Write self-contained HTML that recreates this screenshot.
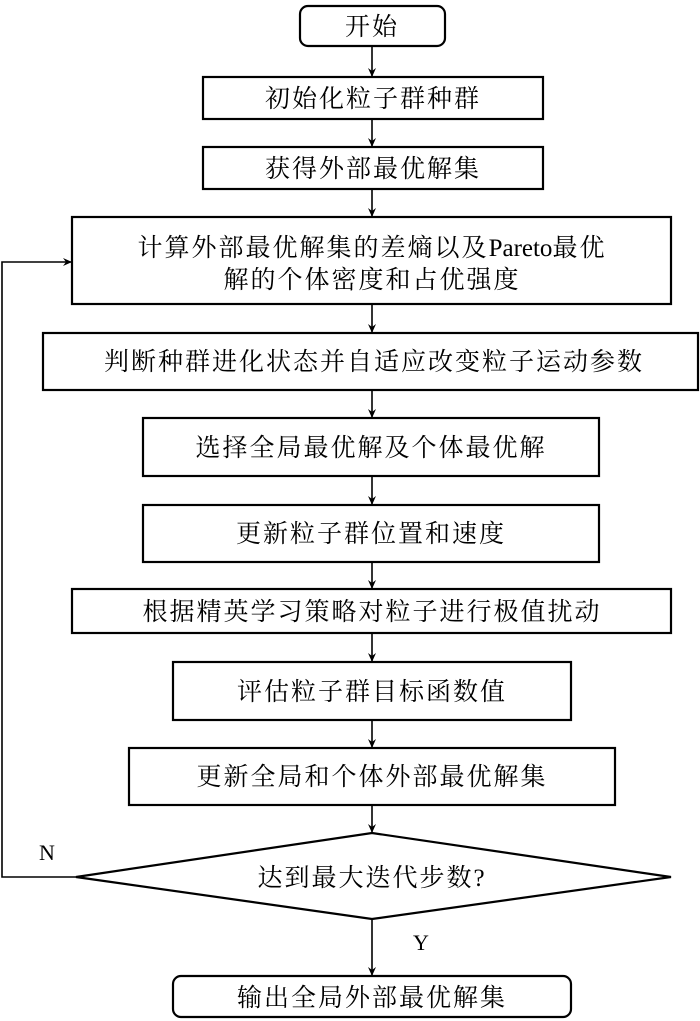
<!DOCTYPE html>
<html><head><meta charset="utf-8"><style>
html,body{margin:0;padding:0;background:#fff;}
svg{display:block;}
text{font-family:"Liberation Serif","Noto Serif CJK SC",serif;font-size:25px;fill:#000;text-anchor:middle;letter-spacing:2px;}
</style></head><body>
<svg width="700" height="1021" viewBox="0 0 700 1021" xmlns="http://www.w3.org/2000/svg">
<defs><marker id="a" markerWidth="10" markerHeight="10" refX="9" refY="5" orient="auto" markerUnits="userSpaceOnUse"><path d="M0,1 L9,5 L0,9 L3,5 z" fill="#000"/></marker></defs>
<g fill="none" stroke="#000" stroke-width="2.2">
<rect x="300" y="6" width="145" height="40" rx="8"/>
<rect x="203" y="77" width="340" height="42"/>
<rect x="203" y="147" width="340" height="42"/>
<rect x="72" y="217" width="599" height="87"/>
<rect x="43" y="333" width="655" height="57"/>
<rect x="143" y="418" width="456" height="58"/>
<rect x="143" y="505" width="456" height="57"/>
<rect x="72" y="589" width="599" height="44"/>
<rect x="173" y="662" width="398" height="58"/>
<rect x="129" y="748" width="486" height="57"/>
<polygon points="372,833 671,877 372,919 76,877"/>
<rect x="173" y="976" width="398" height="41" rx="8"/>
<g marker-end="url(#a)" stroke-width="1.6">
<line x1="372" y1="46" x2="372" y2="77"/>
<line x1="372" y1="119" x2="372" y2="147"/>
<line x1="372" y1="189" x2="372" y2="217"/>
<line x1="372" y1="304" x2="372" y2="333"/>
<line x1="372" y1="390" x2="372" y2="418"/>
<line x1="372" y1="476" x2="372" y2="505"/>
<line x1="372" y1="562" x2="372" y2="589"/>
<line x1="372" y1="633" x2="372" y2="662"/>
<line x1="372" y1="720" x2="372" y2="748"/>
<line x1="372" y1="805" x2="372" y2="833"/>
<line x1="372" y1="919" x2="372" y2="976"/>
<polyline points="76,877 2,877 2,262 72,262"/>
</g>
</g>
<text x="372" y="35">开始</text>
<text x="373" y="107">初始化粒子群种群</text>
<text x="373" y="177">获得外部最优解集</text>
<text x="372" y="256">计算外部最优解集的差熵以及<tspan style="letter-spacing:0">Pareto</tspan>最优</text>
<text x="372" y="288">解的个体密度和占优强度</text>
<text x="374" y="370">判断种群进化状态并自适应改变粒子运动参数</text>
<text x="371" y="456">选择全局最优解及个体最优解</text>
<text x="371" y="542">更新粒子群位置和速度</text>
<text x="372" y="620">根据精英学习策略对粒子进行极值扰动</text>
<text x="372" y="700">评估粒子群目标函数值</text>
<text x="372" y="785">更新全局和个体外部最优解集</text>
<text x="372" y="886">达到最大迭代步数?</text>
<text x="372" y="1006">输出全局外部最优解集</text>
<text x="48" y="860" style="font-size:22px">N</text>
<text x="422" y="950" style="font-size:22px">Y</text>
</svg>
</body></html>
